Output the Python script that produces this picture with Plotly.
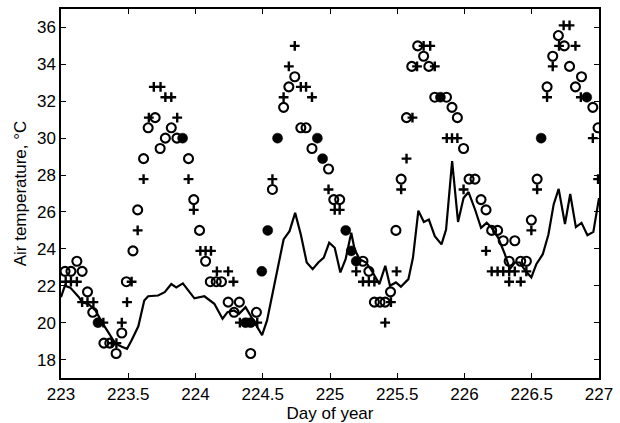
import plotly.graph_objects as go

# Solid line: air temperature trace (day of year, deg C)
line_day = [223.0, 223.029, 223.069, 223.133, 223.157, 223.206, 223.256, 223.304, 223.373, 223.403,
            223.452, 223.491, 223.525, 223.575, 223.619, 223.648, 223.722, 223.771, 223.82, 223.857,
            223.906, 223.955, 223.992, 224.066, 224.14, 224.201, 224.238, 224.287, 224.324, 224.372,
            224.409, 224.446, 224.495, 224.532, 224.582, 224.618, 224.655, 224.699, 224.741, 224.783,
            224.827, 224.871, 224.913, 224.954, 224.994, 225.035, 225.077, 225.116, 225.158, 225.183,
            225.22, 225.269, 225.318, 225.367, 225.411, 225.446, 225.49, 225.527, 225.583, 225.617,
            225.657, 225.698, 225.735, 225.779, 225.829, 225.863, 225.908, 225.952, 225.993, 226.03,
            226.079, 226.123, 226.165, 226.202, 226.251, 226.3, 226.337, 226.374, 226.411, 226.453,
            226.497, 226.534, 226.582, 226.624, 226.663, 226.7, 226.747, 226.786, 226.828, 226.87,
            226.914, 226.958, 227.0]
line_temp = [21.38, 22.0, 21.9, 21.38, 21.1, 21.0, 20.66, 20.03, 19.23, 18.87,
             18.69, 18.58, 19.05, 19.8, 21.2, 21.43, 21.47, 21.65, 22.09, 21.91,
             22.13, 21.65, 21.32, 21.43, 21.02, 20.21, 20.57, 20.66, 20.48, 20.84,
             20.39, 19.94, 19.32, 20.12, 21.91, 23.35, 24.51, 24.96, 25.95, 24.78,
             23.26, 22.9, 23.26, 23.53, 24.33, 24.06, 22.72, 23.44, 24.87, 23.97,
             23.44, 23.26, 22.72, 22.09, 23.08, 22.0, 22.18, 21.95, 22.36, 23.53,
             26.07, 25.46, 25.59, 24.69, 24.24, 25.05, 28.76, 25.46, 26.75, 27.08,
             26.12, 25.14, 25.41, 25.14, 24.6, 23.71, 22.9, 23.26, 23.26, 22.81,
             22.45, 23.17, 23.71, 24.78, 26.41, 27.25, 25.35, 26.97, 25.18, 25.41,
             24.74, 24.92, 26.75]

# Open circles
circ_day = [223.03, 223.074, 223.118, 223.157, 223.197, 223.236, 223.319, 223.363, 223.41, 223.452,
            223.486, 223.535, 223.57, 223.614, 223.648, 223.70, 223.737, 223.776, 223.82, 223.862,
            223.948, 223.987, 224.03, 224.075, 224.11, 224.154, 224.193, 224.243, 224.287, 224.326,
            224.41, 224.453, 224.572, 224.655, 224.694, 224.738, 224.783, 224.822, 224.866, 224.989,
            225.028, 225.072, 225.245, 225.289, 225.33, 225.372, 225.41, 225.45, 225.49, 225.529,
            225.569, 225.608, 225.652, 225.696, 225.735, 225.779, 225.866, 225.907, 225.947, 225.993,
            226.034, 226.078, 226.123, 226.16, 226.202, 226.246, 226.288, 226.332, 226.374, 226.418,
            226.46, 226.497, 226.54, 226.614, 226.656, 226.698, 226.742, 226.781, 226.825, 226.87,
            226.954, 226.993]
circ_temp = [22.78, 22.78, 23.33, 22.78, 21.67, 20.56, 18.89, 18.89, 18.33, 19.44,
             22.22, 23.89, 26.11, 28.89, 30.56, 31.11, 29.44, 30.0, 30.56, 30.0,
             28.89, 26.67, 25.0, 23.33, 22.22, 22.22, 22.22, 21.11, 20.56, 21.11,
             18.33, 20.56, 27.22, 31.67, 32.78, 33.33, 30.56, 30.56, 29.44, 28.33,
             26.67, 26.67, 23.33, 22.78, 21.11, 21.11, 21.11, 21.67, 25.0, 27.78,
             31.11, 33.89, 35.0, 34.44, 33.89, 32.22, 32.22, 31.67, 31.11, 29.44,
             27.78, 27.78, 26.67, 26.11, 25.0, 25.0, 24.44, 23.33, 24.44, 23.33,
             23.33, 25.56, 27.78, 32.78, 34.44, 35.56, 35.0, 33.89, 32.78, 33.33,
             31.67, 30.56]

# Plus markers
plus_day = [223.035, 223.074, 223.118, 223.157, 223.197, 223.241, 223.315, 223.378, 223.412, 223.452,
            223.491, 223.525, 223.57, 223.614, 223.653, 223.69, 223.74, 223.776, 223.82, 223.864,
            223.948, 223.987, 224.036, 224.075, 224.115, 224.159, 224.243, 224.282, 224.33, 224.459,
            224.572, 224.655, 224.694, 224.738, 224.783, 224.822, 224.866, 224.989, 225.035, 225.072,
            225.195, 225.245, 225.289, 225.33, 225.41, 225.453, 225.495, 225.529, 225.569, 225.613,
            225.647, 225.696, 225.745, 225.779, 225.868, 225.907, 225.947, 225.993, 226.16, 226.202,
            226.246, 226.288, 226.332, 226.374, 226.46, 226.332, 226.418, 226.497, 226.54, 226.614,
            226.656, 226.703, 226.737, 226.781, 226.825, 226.865, 226.954, 226.993]
plus_temp = [22.22, 22.22, 22.22, 21.11, 21.11, 21.11, 20.0, 18.89, 18.89, 20.0,
             21.11, 22.22, 25.0, 27.78, 31.11, 32.78, 32.78, 32.22, 32.22, 31.11,
             27.78, 26.11, 23.89, 23.89, 23.89, 22.78, 22.78, 22.22, 20.0, 20.0,
             27.78, 32.22, 33.89, 35.0, 32.78, 32.78, 32.22, 27.22, 26.11, 26.11,
             22.78, 22.22, 22.22, 22.22, 20.0, 21.11, 22.78, 27.22, 28.89, 31.11,
             33.89, 35.0, 35.0, 33.89, 30.0, 30.0, 30.0, 27.22, 23.89, 22.78,
             22.78, 22.78, 22.78, 22.78, 22.78, 22.22, 22.22, 25.0, 27.22, 32.22,
             33.89, 35.0, 36.11, 36.11, 35.0, 32.22, 30.0, 27.78]

# Filled circles (coinciding values)
fill_day = [223.275, 223.904, 224.372, 224.41, 224.493, 224.537, 224.61, 224.906, 224.945, 225.117,
            225.158, 225.195, 225.821, 226.57, 226.909]
fill_temp = [20.0, 30.0, 20.0, 20.0, 22.78, 25.0, 30.0, 30.0, 28.89, 25.0,
             23.89, 23.33, 32.22, 30.0, 32.22]

x_ticks = [223, 223.5, 224, 224.5, 225, 225.5, 226, 226.5, 227]
x_tick_labels = ["223", "223.5", "224", "224.5", "225", "225.5", "226", "226.5", "227"]
y_ticks = [18, 20, 22, 24, 26, 28, 30, 32, 34, 36]

fig = go.Figure()
fig.add_trace(go.Scatter(x=line_day, y=line_temp, mode="lines",
                         line=dict(color="black", width=2.2), showlegend=False))
fig.add_trace(go.Scatter(x=circ_day, y=circ_temp, mode="markers",
                         marker=dict(symbol="circle-open", size=9, color="black",
                                     line=dict(width=2.1, color="black")),
                         showlegend=False))
fig.add_trace(go.Scatter(x=plus_day, y=plus_temp, mode="markers",
                         marker=dict(symbol="cross-thin", size=7, color="black",
                                     line=dict(width=2.4, color="black")),
                         showlegend=False))
fig.add_trace(go.Scatter(x=fill_day, y=fill_temp, mode="markers",
                         marker=dict(symbol="circle", size=10, color="black",
                                     line=dict(width=0.5, color="black")),
                         showlegend=False))

axis_font = dict(family="Liberation Sans, Arial, sans-serif", size=17, color="black")
fig.update_layout(
    width=620, height=423,
    margin=dict(l=61, r=15, t=7, b=41),
    paper_bgcolor="white", plot_bgcolor="white",
    font=axis_font,
    xaxis=dict(range=[223, 227], tickmode="array", tickvals=x_ticks, ticktext=x_tick_labels,
               ticks="inside", ticklen=5, tickwidth=1.3, tickcolor="black",
               showline=True, linecolor="black", linewidth=1.5, mirror="allticks",
               showgrid=False, zeroline=False,
               title=dict(text="Day of year", font=axis_font, standoff=0),
               tickfont=axis_font),
    yaxis=dict(range=[17, 37], tickmode="array", tickvals=y_ticks,
               ticks="inside", ticklen=5, tickwidth=1.3, tickcolor="black",
               showline=True, linecolor="black", linewidth=1.5, mirror="allticks",
               showgrid=False, zeroline=False,
               title=dict(text="Air temperature, °C", font=axis_font, standoff=6),
               tickfont=axis_font),
)

fig.write_html("out.html", config={"displayModeBar": False},
               post_script="document.body.style.margin='0';")
